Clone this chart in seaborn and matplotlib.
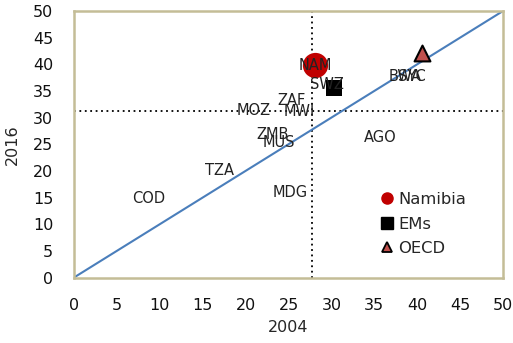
import matplotlib
matplotlib.use("Agg")
import matplotlib.pyplot as plt
import seaborn as sns
import pandas as pd
from matplotlib.lines import Line2D

# Country labels, positioned at their (2004, 2016) values
countries = ["NAM", "SWZ", "BWA", "SYC", "ZAF", "MOZ", "MWI", "ZMB", "MUS",
             "AGO", "TZA", "COD", "MDG"]
val_2004 = [28.1, 29.5, 38.6, 39.4, 25.4, 20.9, 26.3, 23.2, 23.9, 35.7, 17.0, 8.7, 25.2]
val_2016 = [39.7, 36.3, 37.8, 37.7, 33.3, 31.4, 31.2, 26.9, 25.4, 26.2, 20.0, 14.9, 16.0]

# Highlighted groups
groups = ["Namibia", "EMs", "OECD"]
group_2004 = [28.1, 30.3, 40.6]
group_2016 = [39.9, 35.5, 42.1]

# Regional averages (reference lines)
avg_2004 = 27.7
avg_2016 = 31.2

# 45-degree line
diag = [0, 50]

sns.set_style("white")
plt.rcParams["font.family"] = ["DejaVu Sans"]

fig = plt.figure(figsize=(5.13, 3.43), dpi=100)
ax = fig.add_axes([74 / 513, (343 - 277.5) / 343, (503 - 74) / 513, (277.5 - 11) / 343])

frame = "#c4bd97"
for s in ax.spines.values():
    s.set_color(frame)
    s.set_linewidth(1.8)

sns.lineplot(x=diag, y=diag, ax=ax, color="#4a7ebb", linewidth=1.5, zorder=2)
ax.axvline(avg_2004, color="black", linestyle=(0, (1, 2)), linewidth=1.3, zorder=1)
ax.axhline(avg_2016, color="black", linestyle=(0, (1, 2)), linewidth=1.3, zorder=1)

df = pd.DataFrame({"g": groups, "x": group_2004, "y": group_2016})
styles = {
    "Namibia": dict(marker="o", s=330, color="#c00000", edgecolor="#c00000", linewidth=0),
    "EMs": dict(marker="s", s=120, color="black", edgecolor="black", linewidth=0),
    "OECD": dict(marker="^", s=130, color="#c0504d", edgecolor="black", linewidth=1.5),
}
for g in groups:
    sub = df[df["g"] == g]
    sns.scatterplot(data=sub, x="x", y="y", ax=ax, zorder=3, legend=False, **styles[g])

for c, x, y in zip(countries, val_2004, val_2016):
    ax.text(x, y, c, ha="center", va="center", fontsize=10.5, color="#222222", zorder=4)

ax.set_xlim(0, 50)
ax.set_ylim(0, 50)
ax.set_xticks(range(0, 51, 5))
ax.set_yticks(range(0, 51, 5))
ax.tick_params(axis="both", direction="in", length=5, width=1.5, color=frame,
               labelsize=11.5, labelcolor="#111111")
ax.tick_params(axis="x", pad=15)
ax.tick_params(axis="y", pad=15)
ax.set_xlabel("2004", fontsize=11.5, labelpad=5)
ax.set_ylabel("2016", fontsize=11.5, labelpad=9)

handles = [
    Line2D([], [], marker="o", linestyle="", markersize=8, color="#c00000"),
    Line2D([], [], marker="s", linestyle="", markersize=8, color="black"),
    Line2D([], [], marker="^", linestyle="", markersize=7, markerfacecolor="#c0504d",
           markeredgecolor="black", markeredgewidth=1.3),
]
ax.legend(handles, groups, loc="upper left", bbox_to_anchor=(0.70, 0.345), frameon=False,
          fontsize=11.8, handlelength=0.8, handletextpad=0.25, labelspacing=0.58,
          borderaxespad=0)

fig.savefig("out.png", dpi=100)
